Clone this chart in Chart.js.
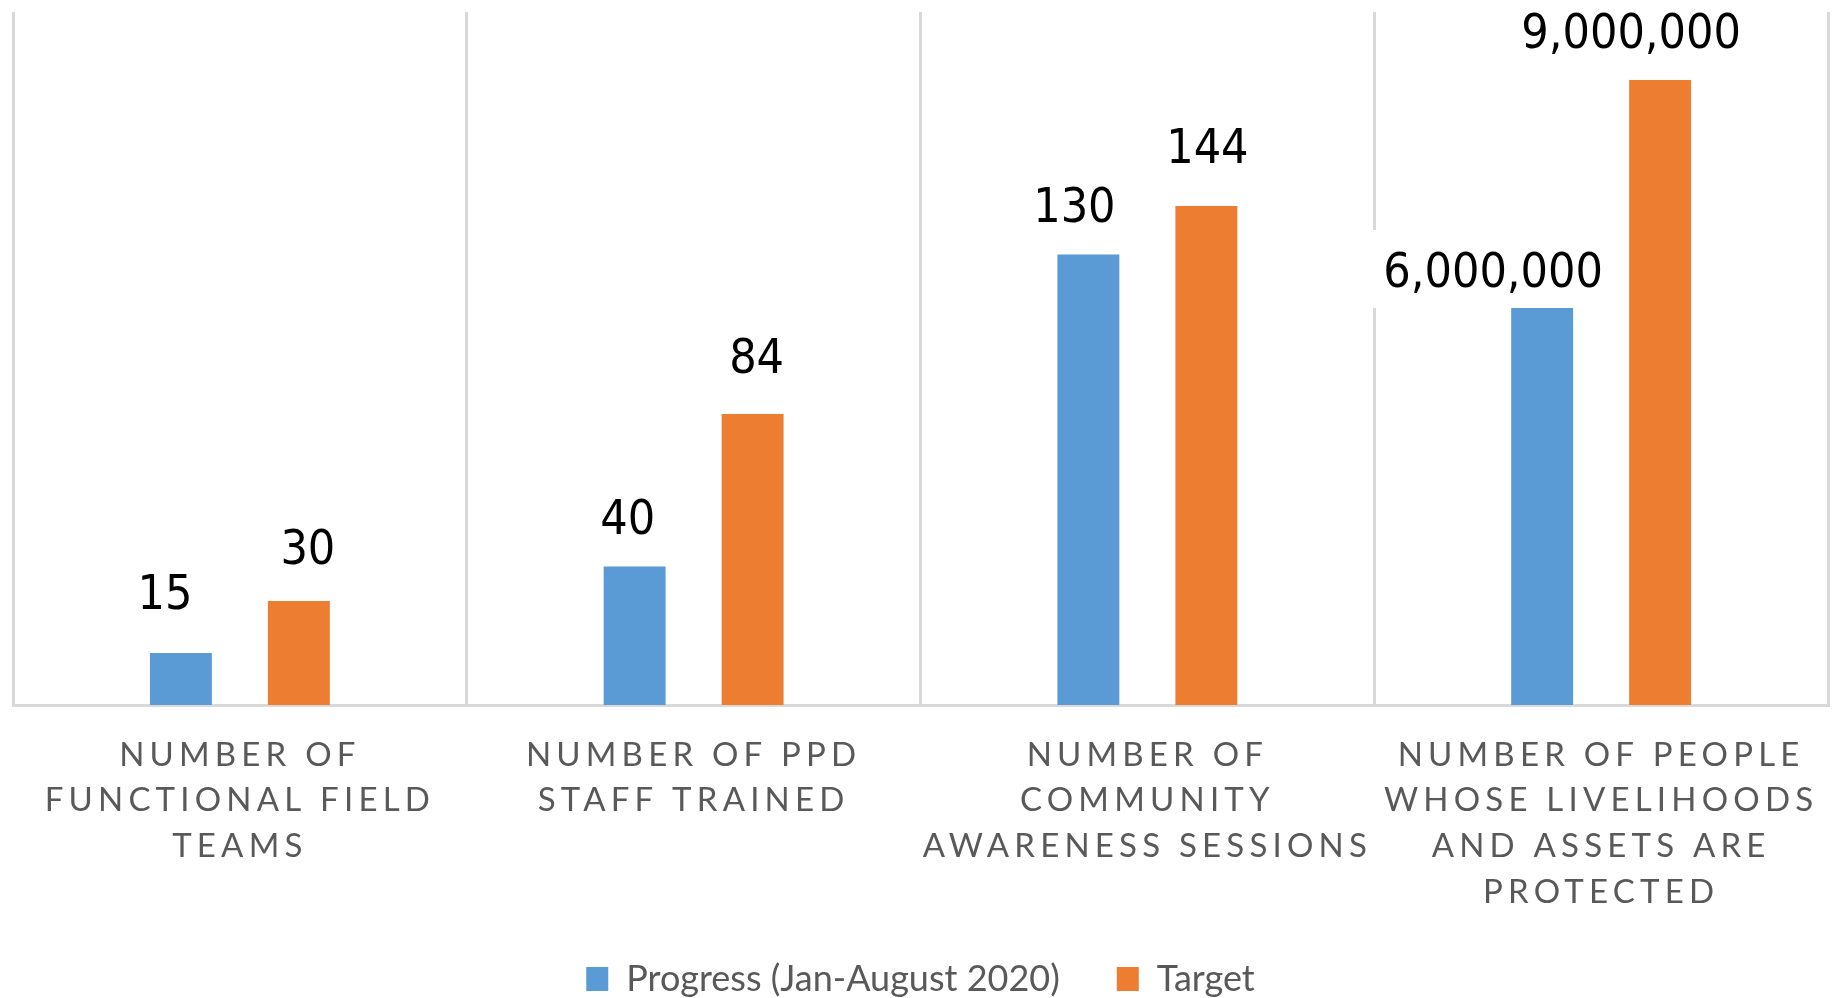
<!DOCTYPE html>
<html>
<head>
<meta charset="utf-8">
<script src="https://cdn.jsdelivr.net/npm/chart.js@4.4.1/dist/chart.umd.min.js"></script>
<style>
  html, body { margin: 0; padding: 0; background: #ffffff; overflow: hidden; }
  #wrap { width: 1835px; height: 998px; position: relative; }
</style>
</head>
<body>
<div id="wrap"><canvas id="c"></canvas></div>
<script>
// ---- data ----
const categories = [
  ["NUMBER OF", "FUNCTIONAL FIELD", "TEAMS"],
  ["NUMBER OF PPD", "STAFF TRAINED"],
  ["NUMBER OF", "COMMUNITY", "AWARENESS SESSIONS"],
  ["NUMBER OF PEOPLE", "WHOSE LIVELIHOODS", "AND ASSETS ARE", "PROTECTED"]
];
const seriesNames = ["Progress (Jan-August 2020)", "Target"];
// first three indicators share one value axis
const progressCounts = [15, 40, 130, null];
const targetCounts   = [30, 84, 144, null];
// the people indicator is drawn on its own value axis
const progressPeople = [null, null, null, 6000000];
const targetPeople   = [null, null, null, 9000000];

// ---- styling ----
const BLUE = '#5B9BD5';
const ORANGE = '#ED7D31';
const GRID = '#D9D9D9';
const LABEL_GRAY = '#595959';
// small hand nudges of the value labels (dx, dy) per series per category
const LABEL_NUDGE = [
  [[-16, -12], [-7, 0], [-14, -1], [-49, 11]],
  [[9, -5], [4, -9], [1, -11], [-29, 0]]
];

const valueLabels = {
  id: 'valueLabels',
  afterDatasetsDraw(chart) {
    const ctx = chart.ctx;
    ctx.save();
    ctx.font = '48px "DejaVu Sans Condensed", "DejaVu Sans", sans-serif';
    ctx.textAlign = 'center';
    ctx.textBaseline = 'alphabetic';
    chart.data.datasets.forEach((ds, di) => {
      const meta = chart.getDatasetMeta(di);
      meta.data.forEach((el, i) => {
        const v = ds.data[i];
        if (v === null || v === undefined) return;
        const [dx, dy] = LABEL_NUDGE[ds.series][i];
        const txt = v.toLocaleString('en-US');
        const x = el.x + dx;
        const y = el.y - 32 + dy;
        const w = ctx.measureText(txt).width;
        ctx.fillStyle = '#ffffff';
        ctx.fillRect(x - w / 2 - 18, y - 57, w + 36, 78);
        ctx.fillStyle = '#000000';
        ctx.fillText(txt, x, y);
      });
    });
    ctx.restore();
  }
};

const spacedTicks = {
  id: 'spacedTicks',
  beforeDraw(chart) {
    const s = chart.scales.x;
    if (s && !s._spaced) {
      const orig = s.drawLabels.bind(s);
      s.drawLabels = function (area) {
        const ctx = this.ctx;
        ctx.save();
        ctx.letterSpacing = '5.2px';
        orig(area);
        ctx.restore();
      };
      s._spaced = true;
    }
  }
};

new Chart(document.getElementById('c'), {
  type: 'bar',
  data: {
    labels: categories,
    datasets: [
      { label: seriesNames[0], series: 0, data: progressCounts, yAxisID: 'y', backgroundColor: BLUE, skipNull: true },
      { label: seriesNames[1], series: 1, data: targetCounts, yAxisID: 'y', backgroundColor: ORANGE, skipNull: true },
      { label: seriesNames[0], series: 0, data: progressPeople, yAxisID: 'y2', backgroundColor: BLUE, skipNull: true, inLegend: false },
      { label: seriesNames[1], series: 1, data: targetPeople, yAxisID: 'y2', backgroundColor: ORANGE, skipNull: true, inLegend: false }
    ]
  },
  options: {
    responsive: true,
    maintainAspectRatio: false,
    animation: false,
    categoryPercentage: 0.52,
    barPercentage: 0.525,
    layout: { padding: { left: 13, right: 7, top: 12, bottom: -9 } },
    scales: {
      x: {
        grid: { offset: true, color: GRID, lineWidth: 3, drawTicks: false },
        border: { display: true, color: GRID, width: 3 },
        ticks: {
          color: LABEL_GRAY,
          font: { family: 'Lato, "DejaVu Sans", sans-serif', size: 33, lineHeight: 1.39 },
          padding: 27,
          autoSkip: false,
          maxRotation: 0,
          minRotation: 0
        },
        afterFit(scale) { scale.height = 199; }
      },
      y: { display: false, min: 0, max: 200 },
      y2: { display: false, min: 776000, max: 9894000 }
    },
    plugins: {
      tooltip: { enabled: false },
      legend: {
        position: 'bottom',
        labels: {
          color: LABEL_GRAY,
          font: { family: 'Lato, "DejaVu Sans", sans-serif', size: 36 },
          boxWidth: 22,
          boxHeight: 24,
          padding: 57,
          filter: (item, data) => data.datasets[item.datasetIndex].inLegend !== false
        }
      }
    }
  },
  plugins: [valueLabels, spacedTicks]
});
</script>
</body>
</html>
